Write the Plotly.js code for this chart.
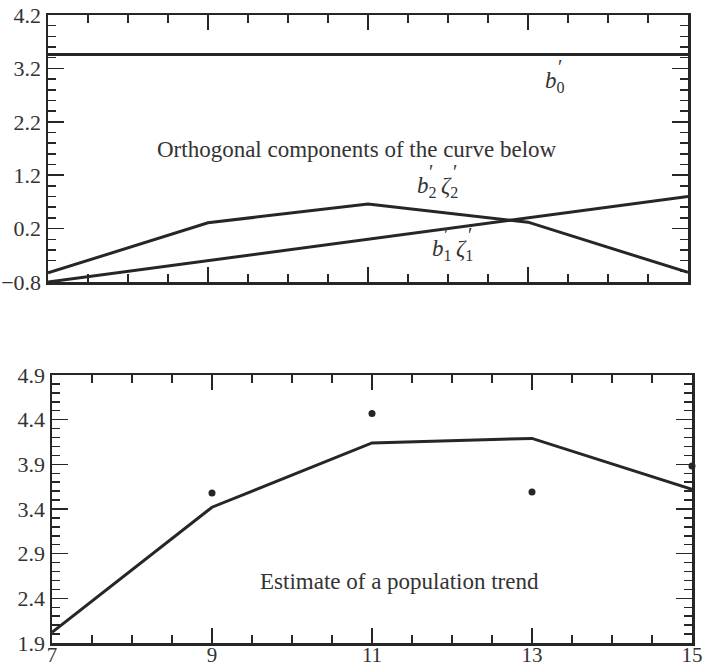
<!DOCTYPE html>
<html>
<head>
<meta charset="utf-8">
<script src="https://cdn.plot.ly/plotly-3.0.1.min.js"></script>
<style>html,body{margin:0;padding:0;background:#fff;}#chart{width:703px;height:667px;}</style>
</head>
<body>
<div id="chart"></div>
<script>
// Data
const xs = [7, 9, 11, 13, 15];
const b0 = [3.46, 3.46, 3.46, 3.46, 3.46];
const b1z1 = [-0.8, -0.4, 0.0, 0.4, 0.8];
const b2z2 = [-0.63, 0.31, 0.66, 0.32, -0.62];
const fitted = [2.02, 3.42, 4.14, 4.19, 3.62];
const obsX = [9, 11, 13, 15];
const obsY = [3.58, 4.47, 3.59, 3.88];
const xTickVals = [7, 9, 11, 13, 15];

const W = 703, H = 667;
const ink = '#262626';
const lineW = 3;
const serif = 'Liberation Serif, Times New Roman, serif';

function line(x, y, xa, ya) {
  return {x: x, y: y, xaxis: xa, yaxis: ya, type: 'scatter', mode: 'lines',
          line: {color: ink, width: lineW}, cliponaxis: false, hoverinfo: 'skip', showlegend: false};
}

const traces = [
  line(xs, b0, 'x2', 'y2'),
  line(xs, b1z1, 'x2', 'y2'),
  line(xs, b2z2, 'x2', 'y2'),
  line(xs, fitted, 'x', 'y'),
  {x: obsX, y: obsY, xaxis: 'x', yaxis: 'y', type: 'scatter', mode: 'markers',
   marker: {color: ink, size: 7}, cliponaxis: false, hoverinfo: 'skip', showlegend: false}
];

function axisBase(extra) {
  return Object.assign({
    showline: true, linecolor: ink, linewidth: 2.5, mirror: 'ticks',
    ticks: 'inside', tickcolor: ink, tickwidth: 1.5,
    showgrid: false, zeroline: false, fixedrange: true,
    tickfont: {family: serif, size: 22, color: '#333'}
  }, extra);
}

const layout = {
  width: W, height: H,
  margin: {l: 0, r: 0, t: 0, b: 0},
  paper_bgcolor: '#fff', plot_bgcolor: '#fff',
  showlegend: false,
  // bottom panel
  xaxis: axisBase({domain: [52 / W, 692 / W], anchor: 'y', range: [7, 15],
    tickmode: 'array', tickvals: xTickVals, ticklen: 15, ticklabelstandoff: -9,
    tickfont: {family: serif, size: 21, color: '#333'},
    minor: {dtick: 0.5, tick0: 7, ticks: 'inside', ticklen: 8, tickwidth: 1.5, tickcolor: ink}}),
  yaxis: axisBase({domain: [(H - 643) / H, (H - 375) / H], anchor: 'x', range: [1.9, 4.9],
    tick0: 1.9, dtick: 0.5, tickformat: '.1f', ticklen: 16,
    minor: {dtick: 0.1, tick0: 1.9, ticks: 'inside', ticklen: 8, tickwidth: 1.5, tickcolor: ink}}),
  // top panel
  xaxis2: axisBase({domain: [48 / W, 688 / W], anchor: 'y2', range: [7, 15],
    tickmode: 'array', tickvals: xTickVals, ticklen: 15, showticklabels: false,
    minor: {dtick: 0.5, tick0: 7, ticks: 'inside', ticklen: 8, tickwidth: 1.5, tickcolor: ink}}),
  yaxis2: axisBase({domain: [(H - 282) / H, (H - 15) / H], anchor: 'x2', range: [-0.8, 4.2],
    tick0: -0.8, dtick: 1, tickformat: '.1f', ticklen: 16,
    minor: {dtick: 0.2, tick0: -0.8, ticks: 'inside', ticklen: 8, tickwidth: 1.5, tickcolor: ink}}),
  annotations: []
};

// helpers converting reference pixel positions to paper fractions
function px(x) { return x / W; }
function py(y) { return 1 - y / H; }
function ann(text, x, y, size, xanchor) {
  return {text: text, x: px(x), y: py(y), xref: 'paper', yref: 'paper',
          xanchor: xanchor || 'left', yanchor: 'middle', showarrow: false,
          font: {family: serif, size: size, color: '#333'}};
}
const A = layout.annotations;
A.push(ann('Orthogonal components of the curve below', 357, 149, 23, 'center'));
A.push(ann('Estimate of a population trend', 399, 581, 23, 'center'));
// b0'
A.push(ann('<i>b</i><sub>0</sub>', 543, 82, 23));
A.push(ann('′', 556, 67, 20));
// b2' zeta2'
A.push(ann('<i>b</i><sub>2</sub>', 415, 187, 23));
A.push(ann('′', 427, 172, 20));
A.push(ann('<i>ζ</i><sub>2</sub>', 439, 187, 23));
A.push(ann('′', 451, 172, 20));
// b1' zeta1'
A.push(ann('<i>b</i><sub>1</sub>', 430, 250, 23));
A.push(ann('′', 442, 235, 20));
A.push(ann('<i>ζ</i><sub>1</sub>', 454, 250, 23));
A.push(ann('′', 466, 235, 20));

Plotly.newPlot('chart', traces, layout, {staticPlot: true, displayModeBar: false});
</script>
</body>
</html>
